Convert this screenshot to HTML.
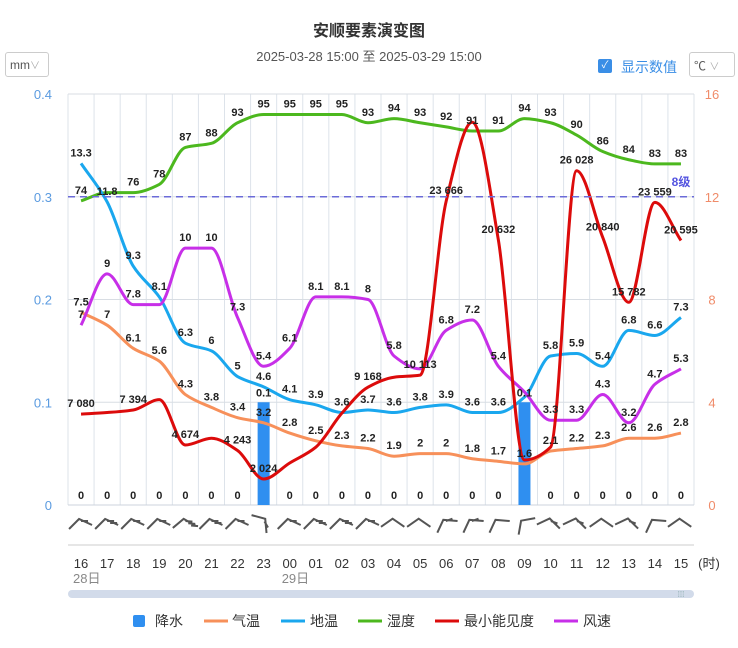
<!DOCTYPE html>
<html><head><meta charset="utf-8"><style>
body{margin:0;background:#fff;font-family:"Liberation Sans","Noto Sans CJK SC",sans-serif;}
#wrap{position:relative;width:738px;height:648px;overflow:hidden;}
.sel{position:absolute;border:1px solid #ccc;border-radius:3px;font-size:12px;color:#555;box-sizing:border-box;padding:4px 4px;}
</style></head><body>
<div id="wrap">
<div class="sel" style="left:5px;top:52px;width:44px;height:25px;">mm<span style="color:#aaa;font-size:10px">∨</span></div>
<div style="position:absolute;left:598px;top:59px;width:14px;height:14px;background:#3a8ee6;border-radius:2px;color:#fff;font-size:10px;text-align:center;line-height:14px">✓</div>
<div style="position:absolute;left:621px;top:57px;font-size:14px;color:#3a8ee6">显示数值</div>
<div class="sel" style="left:689px;top:52px;width:46px;height:25px;">℃ <span style="color:#aaa;font-size:10px">∨</span></div>
<svg id="svg" width="738" height="648" style="position:absolute;left:0;top:0" xmlns="http://www.w3.org/2000/svg"></svg>
</div>
<script>
const categories=["16","17","18","19","20","21","22","23","00","01","02","03","04","05","06","07","08","09","10","11","12","13","14","15"];
const precip=[0,0,0,0,0,0,0,0.1,0,0,0,0,0,0,0,0,0,0.1,0,0,0,0,0,0];
const airTemp=[7.5,7,6.1,5.6,4.3,3.8,3.4,3.2,2.8,2.5,2.3,2.2,1.9,2,2,1.8,1.7,1.6,2.1,2.2,2.3,2.6,2.6,2.8];
const groundTemp=[13.3,11.8,9.3,8.1,6.3,6,5,4.6,4.1,3.9,3.6,3.7,3.6,3.8,3.9,3.6,3.6,4.2,5.8,5.9,5.4,6.8,6.6,7.3];
const humidity=[74,76,76,78,87,88,93,95,95,95,95,93,94,93,92,91,91,94,93,90,86,84,83,83];
const visibility=[7080,7200,7394,8200,4674,5200,4243,2024,3270,4500,7150,9168,9950,10113,23666,29800,20632,3500,4500,26028,20840,15782,23559,20595];
const windSpeed=[7,9,7.8,7.8,10,10,7.3,5.4,6.1,8.1,8.1,8,5.8,5.3,6.8,7.2,5.4,4.4,3.3,3.3,4.3,3.2,4.7,5.3];
const windRot=[0,0,0,0,5,0,0,60,0,0,0,0,10,10,-20,-20,-20,-35,20,20,10,20,-20,10];
const windFeathers=[1,2,1,1,3,2,1,1,1,2,2,1,0,0,1,1,0,0,1,1,0,1,0,0];
const leftTicks=["0","0.1","0.2","0.3","0.4"];
const rightTicks=["0","4","8","12","16"];
// indices whose labels are hidden due to overlap
const hideHum=[1];
const hideGround=[17];
const hideWind=[3,13,17];
const hideVis=[1,3,5,8,9,10,12,15,17,18];

const svg=document.getElementById('svg');const NS="http://www.w3.org/2000/svg";
const X0=68,X1=694,Y0=505,Y1=94;const bw=(X1-X0)/categories.length;
const xc=i=>X0+bw*(i+0.5);
const yL=v=>Y0-(Y0-Y1)*v/0.4;
const yR=v=>Y0-(Y0-Y1)*v/16;
function el(tag,attrs,parent){const e=document.createElementNS(NS,tag);for(const k in attrs)e.setAttribute(k,attrs[k]);(parent||svg).appendChild(e);return e;}
function txt(s,x,y,attrs,name){const t=el('text',Object.assign({x:x,y:y},attrs));t.textContent=s;return t;}
txt("安顺要素演变图",369,36,{"text-anchor":"middle","font-size":"16","font-weight":"bold",fill:"#333"},"chart-title");
txt("2025-03-28 15:00 至 2025-03-29 15:00",369,61,{"text-anchor":"middle","font-size":"13",fill:"#555"},"chart-subtitle");
const grid=el('g',{});
for(let i=0;i<=categories.length;i++)el('line',{x1:X0+bw*i,x2:X0+bw*i,y1:Y1,y2:Y0,stroke:"#dde3ea","stroke-width":1},grid);
leftTicks.forEach((t,i)=>{const y=Y0-(Y0-Y1)*i/(leftTicks.length-1);el('line',{x1:X0,x2:X1,y1:y,y2:y,stroke:i==0?"#ccd3dc":"#d8dde3"},grid);
 txt(t,52,y+5,{"text-anchor":"end","font-size":"13",fill:"#5b9be0"},"left-axis-tick");
 txt(rightTicks[i],712,y+5,{"text-anchor":"middle","font-size":"13",fill:"#f08c6a"},"right-axis-tick");});
const bars=el('g',{});
const labels=[];
precip.forEach((v,i)=>{const b=el('rect',{x:xc(i)-6,y:yL(v),width:12,height:Y0-yL(v),fill:"#2f8ff0"},bars);
 
 labels.push([String(v),xc(i),yL(v)-6]);});
function mono(pts){const n=pts.length;const d=[],m=[];for(let i=0;i<n-1;i++)d.push((pts[i+1][1]-pts[i][1])/(pts[i+1][0]-pts[i][0]));
 for(let i=0;i<n;i++){if(i==0)m.push(d[0]);else if(i==n-1)m.push(d[n-2]);else if(d[i-1]*d[i]<=0)m.push(0);else{m.push(2/(1/d[i-1]+1/d[i]));}}
 let s="M"+pts[0][0]+","+pts[0][1];for(let i=0;i<n-1;i++){const h=(pts[i+1][0]-pts[i][0])/3;s+=" C"+(pts[i][0]+h)+","+(pts[i][1]+m[i]*h)+" "+(pts[i+1][0]-h)+","+(pts[i+1][1]-m[i+1]*h)+" "+pts[i+1][0]+","+pts[i+1][1];}return s;}
function fmt(v){return v>=1000?String(v).replace(/\B(?=(\d{3})+(?!\d))/g," "):String(v);}
function series(vals,yf,color,name,hide){const pts=vals.map((v,i)=>[xc(i),yf(v)]);const p=el('path',{d:mono(pts),fill:"none",stroke:color,"stroke-width":3});
 pts.forEach((q,i)=>{if(hide.indexOf(i)<0)labels.push([fmt(vals[i]),q[0],q[1]-7]);});}
series(humidity,v=>yL(v/250),"#4cb81e","humidity-line",hideHum);
series(airTemp,v=>yL(v/40),"#f7905a","air-temp-line",[]);
series(groundTemp,v=>yL(v/40),"#1aa7ee","ground-temp-line",hideGround);
series(windSpeed,v=>yL(v/40),"#c72fe8","wind-speed-line",hideWind);
series(visibility,v=>yR(v/2000),"#dc0b0b","visibility-line",hideVis);
const ml=el('line',{x1:X0,x2:X1,y1:yL(0.3),y2:yL(0.3),stroke:"#6b6bd8","stroke-width":1.5,"stroke-dasharray":"7,5"});
txt("8级",681,186,{"text-anchor":"middle","font-size":"12","font-weight":"bold",fill:"#5454e0"},"markline-label");
labels.forEach(l=>txt(l[0],l[1],l[2],{"text-anchor":"middle","font-size":"11","font-weight":"bold",fill:"#222"},"data-label"));
windRot.forEach((r,i)=>{const g=el('g',{transform:`translate(${xc(i)},522) rotate(${r})`,stroke:"#555","stroke-width":2,fill:"none"});
 
 let d="M-12,7 L-2,-3 L11,3";for(let k=0;k<windFeathers[i];k++){d+=` M${0+k*3},${-1+k*2} L${7+k*3},${-1+k*2}`;}
 el('path',{d:d},g);});
el('line',{x1:X0,x2:X1,y1:545,y2:545,stroke:"#ccc"});
categories.forEach((c,i)=>txt(c,xc(i),568,{"text-anchor":"middle","font-size":"13",fill:"#333"},"x-axis-tick"));
txt("28日",xc(0)-8,583,{"font-size":"13",fill:"#888"},"date-label");
txt("29日",xc(8)-8,583,{"font-size":"13",fill:"#888"},"date-label");
txt("(时)",709,568,{"text-anchor":"middle","font-size":"13",fill:"#333"},"x-axis-unit");
const sb=el('rect',{x:68,y:590,width:626,height:8,rx:4,fill:"#d2dbea"});
txt("⁞⁞⁞",681,597,{"text-anchor":"middle","font-size":"8",fill:"#8aa"},"slider-handle");
const leg=[["降水","#2f8ff0",140,155,"rect"],["气温","#f7905a",204,232],["地温","#1aa7ee",281,310],["湿度","#4cb81e",358,387],["最小能见度","#dc0b0b",435,464],["风速","#c72fe8",554,583]];
leg.forEach(l=>{const g=el('g',{});
 if(l[4])el('rect',{x:l[2]-7,y:615,width:12,height:12,rx:2,fill:l[1]},g);else el('line',{x1:l[2],x2:l[2]+24,y1:621,y2:621,stroke:l[1],"stroke-width":3},g);
 const t=el('text',{x:l[3],y:626,"font-size":"14",fill:"#333"},g);t.textContent=l[0];});
</script>
</body></html>
